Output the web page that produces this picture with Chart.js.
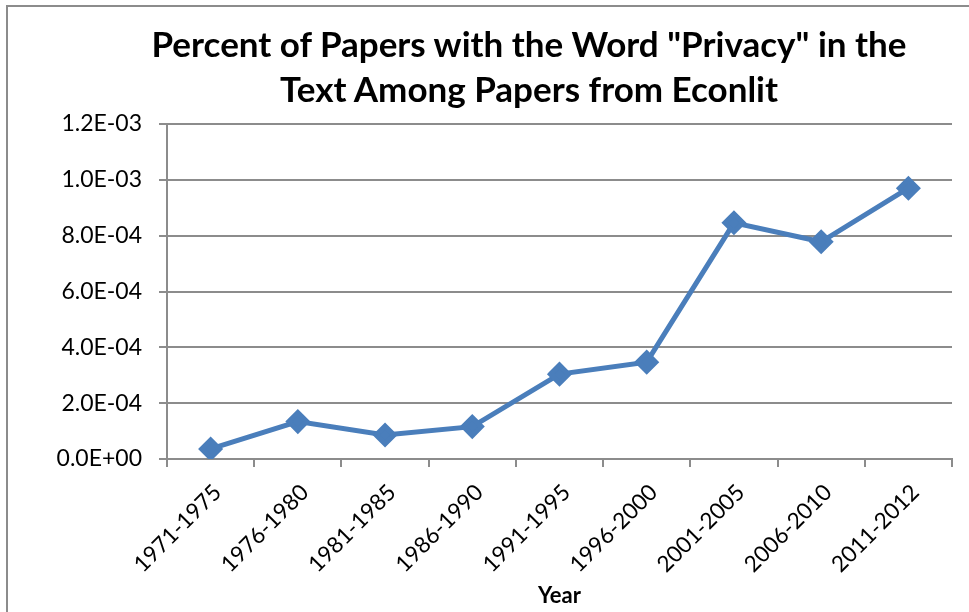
<!DOCTYPE html>
<html>
<head>
<meta charset="utf-8">
<script src="https://cdn.jsdelivr.net/npm/chart.js@4"></script>
<style>
  html, body { margin: 0; padding: 0; background: #fff; }
  #wrap { position: absolute; left: 0; top: 0; width: 969px; height: 612px; }
  #frame { position: absolute; left: 6px; top: 5px; width: 1000px; height: 700px;
           border-left: 2px solid #8c8c8c; border-top: 2px solid #8c8c8c; pointer-events: none; }
  #title { position: absolute; left: 79px; width: 900px; top: 21px; text-align: center;
           font: bold 35px/44.5px Lato, "Open Sans", sans-serif; color: #000; white-space: nowrap; }
</style>
</head>
<body>
<div id="wrap">
  <canvas id="chart" width="969" height="612"></canvas>
  <div id="title">Percent of Papers with the Word "Privacy" in the<br>Text Among Papers from Econlit</div>
  <div id="frame"></div>
</div>
<script>
// Data
const periods = ['1971-1975', '1976-1980', '1981-1985', '1986-1990', '1991-1995',
                 '1996-2000', '2001-2005', '2006-2010', '2011-2012'];
const privacyShare = [0.000036, 0.000134, 0.000086, 0.000116, 0.000304,
                      0.000347, 0.000846, 0.000778, 0.000970];
const yTickLabels = ['0.0E+00', '2.0E-04', '4.0E-04', '6.0E-04', '8.0E-04', '1.0E-03', '1.2E-03'];

const FONT = 'Lato, "Open Sans", sans-serif';
const lineBlue = '#4a7ebb';
const gridGray = '#8c8c8c';

Chart.defaults.font.family = FONT;
Chart.defaults.color = '#000';

const ctx = document.getElementById('chart').getContext('2d');
new Chart(ctx, {
    type: 'line',
    data: {
        labels: periods,
        datasets: [{
            data: privacyShare,
            borderColor: lineBlue,
            backgroundColor: lineBlue,
            borderWidth: 5,
            pointStyle: 'rectRot',
            pointRadius: 9,
            pointHoverRadius: 9,
            tension: 0,
            fill: false
        }]
    },
    options: {
        responsive: false,
        animation: false,
        // title is an html block above, so reserve its height here
        layout: { padding: { left: 0, right: 17, top: 124, bottom: 0 } },
        plugins: {
            legend: { display: false },
            tooltip: { enabled: false },
            title: { display: false }
        },
        scales: {
            x: {
                offset: true,
                grid: { display: true, drawOnChartArea: false, drawTicks: true, tickLength: 8,
                        color: gridGray, lineWidth: 2, offset: true },
                border: { display: true, color: gridGray, width: 2 },
                ticks: { font: { size: 22.5 }, maxRotation: 45, minRotation: 45, padding: 12,
                         labelOffset: 7, color: '#000' },
                title: { display: true, text: 'Year', font: { size: 22, weight: 'bold' }, padding: { top: 0, bottom: 3 } },
                afterFit: (scale) => { scale.height = 612 - 459; }
            },
            y: {
                min: 0,
                max: 0.0012,
                ticks: {
                    stepSize: 0.0002,
                    font: { size: 23 },
                    padding: 17,
                    color: '#000',
                    callback: (v, i) => yTickLabels[i]
                },
                grid: { color: gridGray, lineWidth: 2, tickLength: 8 },
                border: { display: true, color: gridGray, width: 2 },
                afterFit: (scale) => { scale.width = 167; }
            }
        }
    }
});
</script>
</body>
</html>
